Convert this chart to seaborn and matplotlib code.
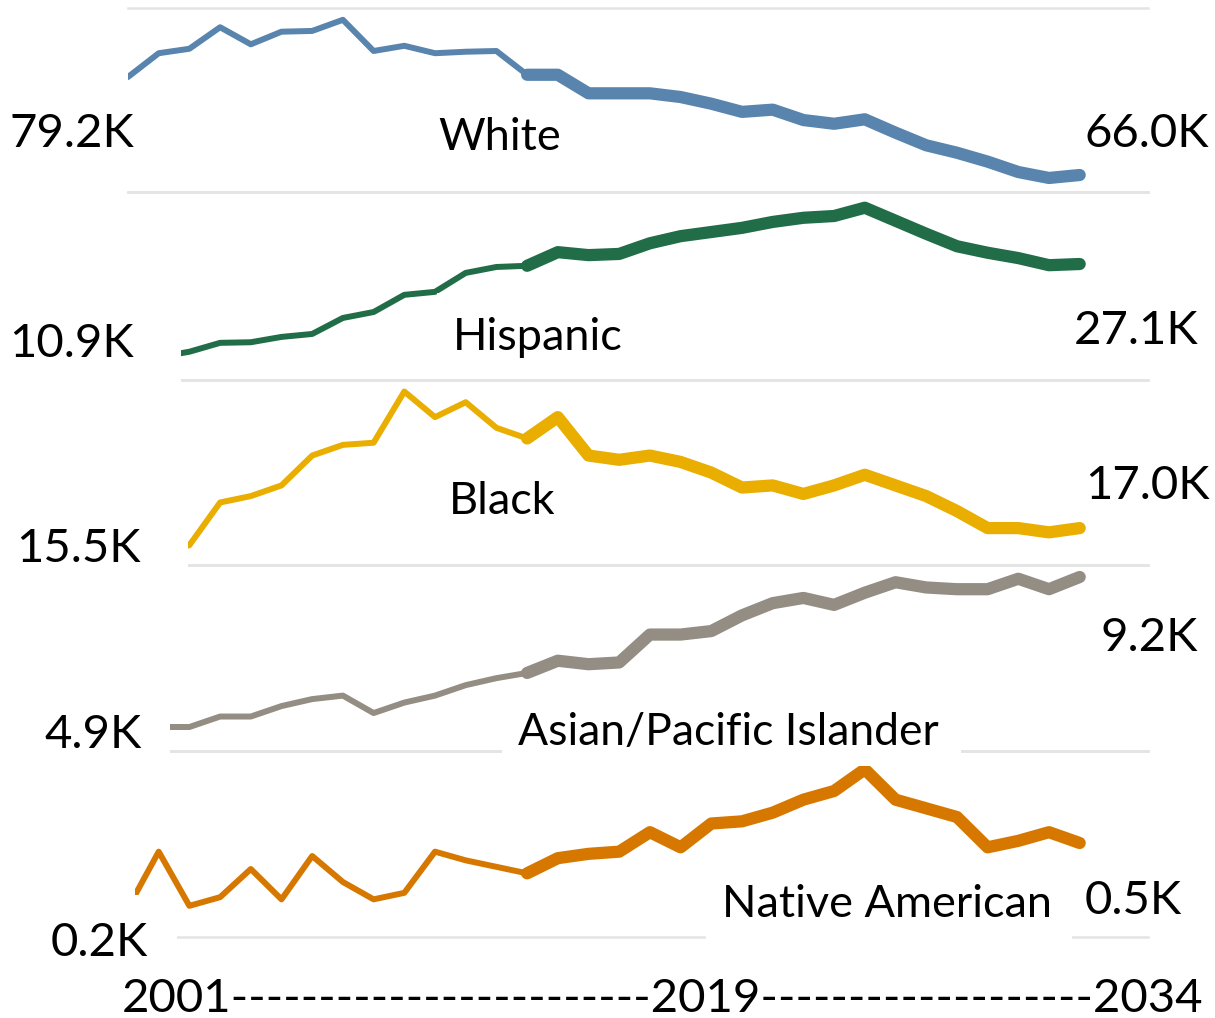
import matplotlib
matplotlib.use("Agg")
import numpy as np
import pandas as pd
import seaborn as sns
import matplotlib.pyplot as plt
from matplotlib.patches import Rectangle

# ---------------- data (thousands) ----------------
years = list(range(2001, 2033))
proj_start = 2014

white = [79.2, 82.4, 83.0, 85.9, 83.6, 85.3, 85.4, 86.9, 82.7, 83.4, 82.4, 82.6,
         82.7, 79.5, 79.5, 77.0, 77.0, 77.0, 76.5, 75.6, 74.5, 74.8, 73.4, 72.9,
         73.5, 71.7, 70.0, 69.0, 67.8, 66.4, 65.6, 66.0]
hispanic = [10.9, 11.4, 12.3, 13.8, 13.9, 14.8, 15.3, 18.0, 19.0, 21.9, 22.4, 25.6,
            26.6, 26.8, 29.1, 28.6, 28.8, 30.6, 31.8, 32.5, 33.2, 34.2, 34.9, 35.2,
            36.6, 34.4, 32.2, 30.1, 29.0, 28.1, 26.9, 27.1]
black = [15.5, 15.7, 16.2, 18.2, 18.5, 19.0, 20.4, 20.9, 21.0, 23.4, 22.2, 22.9,
         21.7, 21.2, 22.2, 20.4, 20.2, 20.4, 20.1, 19.6, 18.9, 19.0, 18.6, 19.0,
         19.5, 19.0, 18.5, 17.8, 17.0, 17.0, 16.8, 17.0]
asian = [4.9, 4.9, 4.9, 5.2, 5.2, 5.5, 5.7, 5.8, 5.3, 5.6, 5.8, 6.1,
         6.3, 6.45, 6.8, 6.7, 6.75, 7.55, 7.55, 7.65, 8.1, 8.45, 8.6, 8.4,
         8.75, 9.05, 8.9, 8.85, 8.85, 9.15, 8.85, 9.2]
native = [0.20, 0.46, 0.21, 0.25, 0.38, 0.24, 0.44, 0.32, 0.24, 0.27, 0.46, 0.42,
          0.39, 0.36, 0.43, 0.45, 0.46, 0.55, 0.48, 0.59, 0.60, 0.64, 0.70, 0.74,
          0.84, 0.70, 0.66, 0.62, 0.48, 0.51, 0.55, 0.50]

groups = ["White", "Hispanic", "Black", "Asian/Pacific Islander", "Native American"]
start_labels = ["79.2K", "10.9K", "15.5K", "4.9K", "0.2K"]
end_labels = ["66.0K", "27.1K", "17.0K", "9.2K", "0.5K"]
axis_text = "2001" + "-" * 24 + "2019" + "-" * 19 + "2034"

# ---------------- styling / layout ----------------
W, H = 1215, 1018
sns.set_theme(style="white")
plt.rcParams['font.family'] = ['Lato', 'DejaVu Sans']

colors = ["#5984ae", "#216d48", "#e9ae00", "#938d83", "#d67800"]
series = [white, hispanic, black, asian, native]
# panel top/bottom in pixels, y-limits
panel_px = [(8, 192), (192, 380), (380, 565), (565, 751), (751, 937)]
ylims = [(63.71, 88.49), (7.53, 39.25), (15.27, 23.94), (4.212, 9.544), (0.0662, 0.9246)]
X0, X1 = 128, 1148
xlim = (2001, 2001 + (X1 - X0) / 30.7)

fig = plt.figure(figsize=(W / 100, H / 100), dpi=100)
fig.patch.set_facecolor("white")


def fx(x):
    return x / W


def fy(y):
    return 1 - y / H


for name, vals, c, (T, B), yl in zip(groups, series, colors, panel_px, ylims):
    ax = fig.add_axes([fx(X0), fy(B), (X1 - X0) / W, (B - T) / H])
    ax.set_facecolor("none")
    df = pd.DataFrame({"year": years, "value": vals})
    d = pd.concat([
        df[df.year <= proj_start].assign(phase="Actual"),
        df[df.year >= proj_start].assign(phase="Projected"),
    ])
    sns.lineplot(data=d, x="year", y="value", size="phase",
                 sizes={"Actual": 4.3, "Projected": 8.8}, color=c,
                 legend=False, ax=ax, estimator=None,
                 solid_capstyle="round", solid_joinstyle="round")
    ax.set_xlim(*xlim)
    ax.set_ylim(*yl)
    ax.set_xticks([])
    ax.set_yticks([])
    ax.set_xlabel("")
    ax.set_ylabel("")
    for s in ["left", "right"]:
        ax.spines[s].set_visible(False)
    for s in ["top", "bottom"]:
        ax.spines[s].set_color("#e4e4e4")
        ax.spines[s].set_linewidth(1.8)
        ax.spines[s].set_zorder(0)


def white_box(x0, y0, x1, y1):
    fig.patches.append(Rectangle((fx(x0), fy(y1)), (x1 - x0) / W, (y1 - y0) / H,
                                 transform=fig.transFigure, facecolor="white",
                                 edgecolor="none", zorder=5))


# label boxes that hide parts of the lines (as in the original collage)
white_box(0, 300, 181, 383)     # Hispanic start label
white_box(0, 500, 188, 567)     # Black start label
white_box(0, 690, 170, 754)     # Asian start label
white_box(0, 840, 135, 960)     # Native start label
white_box(0, 895, 177, 960)
white_box(437, 293, 625, 372)   # Hispanic label
white_box(502, 695, 961, 766)   # Asian/Pacific Islander label
white_box(706, 862, 1072, 945)  # Native American label


def label(x, y, s, ha="center", size=34):
    fig.text(fx(x), fy(y), s, ha=ha, va="baseline", fontsize=size,
             color="black", zorder=10)


# start labels (x center, baseline)
label(72, 147, start_labels[0])
label(71, 357, start_labels[1])
label(78, 562, start_labels[2])
label(93, 748, start_labels[3])
label(99, 956, start_labels[4])
# end labels
label(1147, 147, end_labels[0])
label(1136, 344, end_labels[1])
label(1147, 499, end_labels[2])
label(1149, 651, end_labels[3])
label(1133, 914, end_labels[4])
# category labels
label(500, 150, groups[0], size=32.5)
label(538, 350, groups[1], size=32.5)
label(502, 514, groups[2], size=32.5)
label(728, 745, groups[3], size=32)
label(887, 917, groups[4], size=32.5)
# year axis line
label(122, 1012, axis_text, ha="left", size=34)

fig.savefig("out.png", dpi=100, facecolor="white")
